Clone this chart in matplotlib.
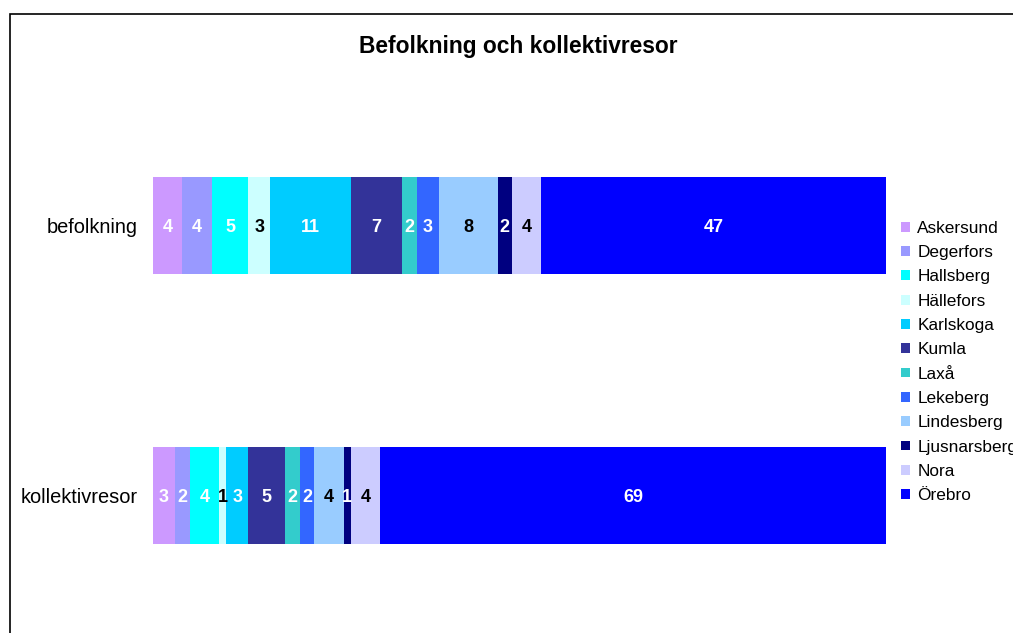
import matplotlib

matplotlib.use("Agg")
import matplotlib.pyplot as plt
from matplotlib.patches import Rectangle, Patch

plt.rcParams["font.family"] = ["Liberation Sans", "DejaVu Sans"]

categories = ["befolkning", "kollektivresor"]
kommuner = ["Askersund", "Degerfors", "Hallsberg", "Hällefors", "Karlskoga", "Kumla",
            "Laxå", "Lekeberg", "Lindesberg", "Ljusnarsberg", "Nora", "Örebro"]
befolkning = [4, 4, 5, 3, 11, 7, 2, 3, 8, 2, 4, 47]
kollektivresor = [3, 2, 4, 1, 3, 5, 2, 2, 4, 1, 4, 69]
colors = ["#CC99FF", "#9999FF", "#00FFFF", "#CCFFFF", "#00CCFF", "#333399",
          "#33CCCC", "#3366FF", "#99CCFF", "#000080", "#CCCCFF", "#0000FF"]
label_colors = ["white", "white", "white", "black", "white", "white",
                "white", "white", "black", "white", "black", "white"]

fig = plt.figure(figsize=(10.13, 6.33), dpi=100)
# outer chart frame (cut off at right and bottom)
fig.patches.append(Rectangle((9.5 / 1013, -0.05), 1.1, 1 - 14 / 633 + 0.05,
                             transform=fig.transFigure, fill=False,
                             edgecolor="black", linewidth=1.2))

ax = fig.add_axes([153 / 1013, 1 - 630.5 / 633, (886 - 153) / 1013, 540 / 633])

series = [befolkning, kollektivresor]
for yi, vals in enumerate(series):
    left = 0
    for i, v in enumerate(vals):
        ax.barh(yi, v, left=left, height=0.36, color=colors[i], linewidth=0)
        ax.text(left + v / 2, yi, f"{v}", ha="center", va="center_baseline",
                color=label_colors[i], fontsize=13, fontweight="bold")
        left += v

ax.set_xlim(0, 100)
ax.set_ylim(1.5, -0.5)
ax.set_yticks(range(len(categories)))
ax.set_yticklabels(categories, fontsize=14.4)
ax.tick_params(axis="y", length=0, pad=10.8)
ax.set_xticks([])
for s in ax.spines.values():
    s.set_visible(False)

fig.text(518 / 1013, 1 - 47 / 633, "Befolkning och kollektivresor",
         ha="center", va="center", fontsize=16.4, fontweight="bold")

handles = [Patch(facecolor=c, edgecolor="none") for c in colors]
fig.legend(handles, kommuner, loc="upper left", bbox_to_anchor=(894 / 1013, 1 - 214 / 633),
           frameon=False, fontsize=12.4, handlelength=0.5, handleheight=0.5,
           handletextpad=0.45, labelspacing=0.54, borderaxespad=0)

fig.savefig("out.png", dpi=100)
